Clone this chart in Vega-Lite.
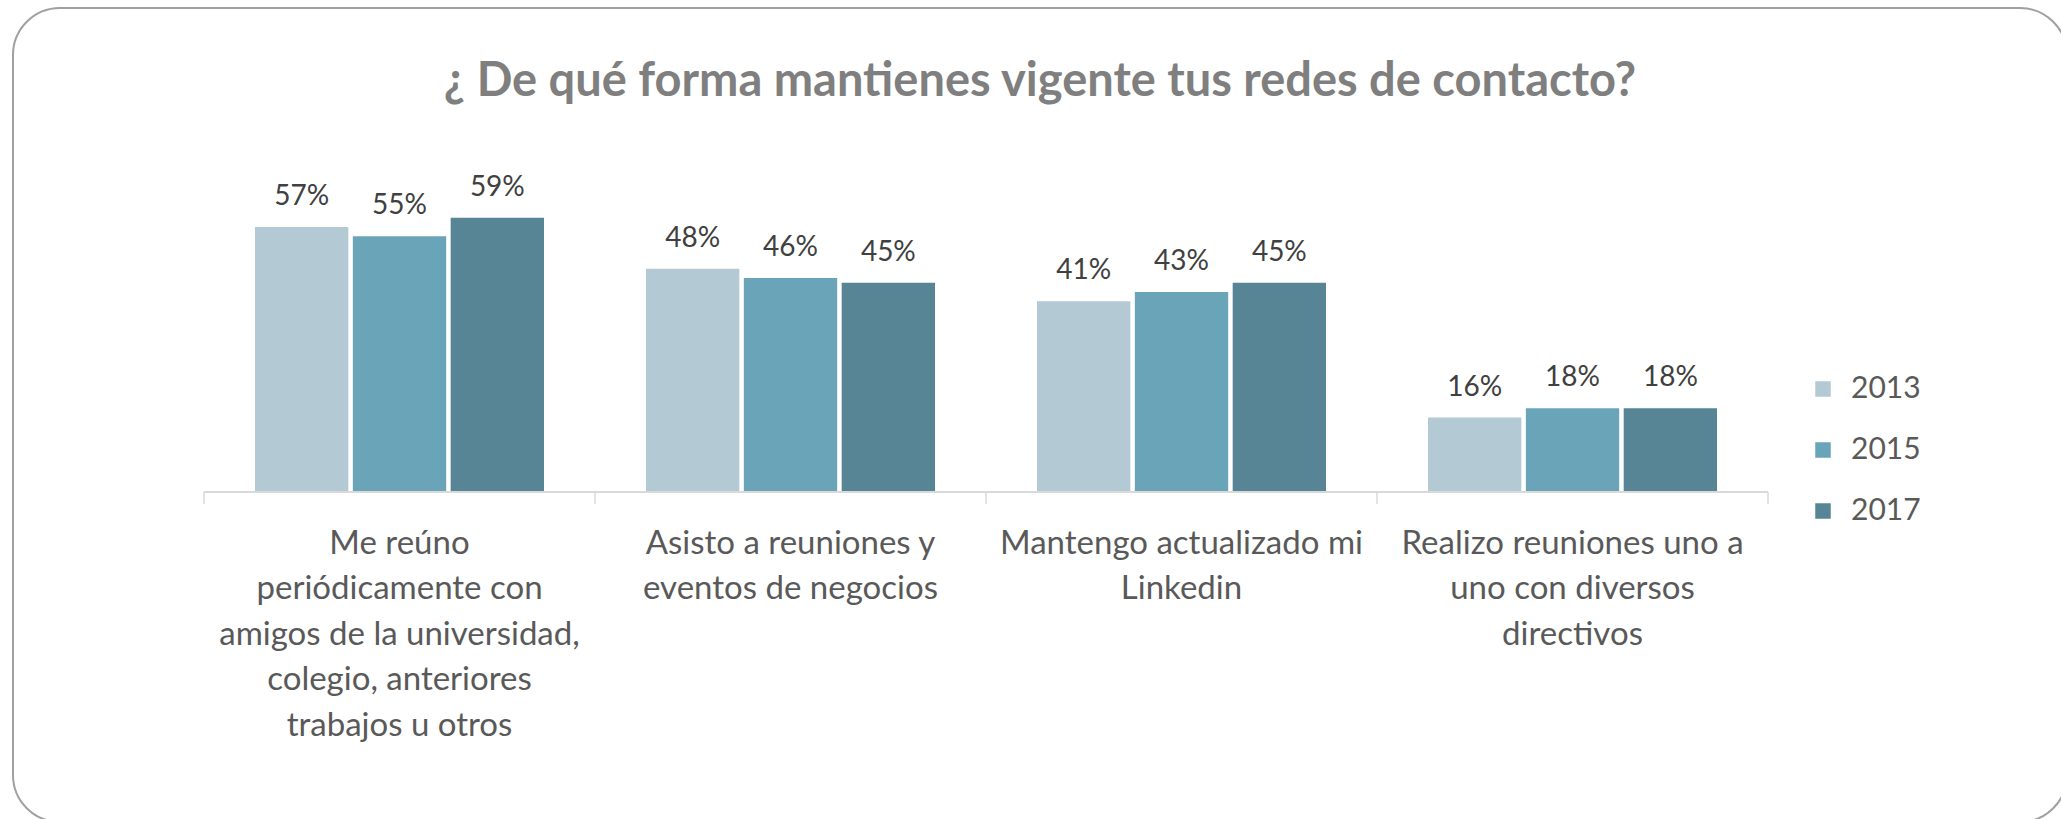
{
  "$schema": "https://vega.github.io/schema/vega-lite/v6.json",
  "autosize": "none",
  "width": 2054,
  "height": 814,
  "padding": {"left": 13, "top": 8, "right": 0, "bottom": 0},
  "background": "#ffffff",
  "config": {
    "font": "Lato",
    "view": {"stroke": "#a0a0a0", "strokeWidth": 2, "cornerRadius": 47}
  },
  "title": {
    "text": "¿ De qué forma mantienes vigente tus redes de contacto?",
    "font": "Lato",
    "fontSize": 47,
    "fontWeight": "bold",
    "color": "#7f7f7f",
    "anchor": "middle",
    "offset": -98
  },
  "datasets": {
    "main": [
      {"categoria": "Me reúno periódicamente con amigos de la universidad, colegio, anteriores trabajos u otros", "año": "2013", "valor": 0.57},
      {"categoria": "Me reúno periódicamente con amigos de la universidad, colegio, anteriores trabajos u otros", "año": "2015", "valor": 0.55},
      {"categoria": "Me reúno periódicamente con amigos de la universidad, colegio, anteriores trabajos u otros", "año": "2017", "valor": 0.59},
      {"categoria": "Asisto a reuniones y eventos de negocios", "año": "2013", "valor": 0.48},
      {"categoria": "Asisto a reuniones y eventos de negocios", "año": "2015", "valor": 0.46},
      {"categoria": "Asisto a reuniones y eventos de negocios", "año": "2017", "valor": 0.45},
      {"categoria": "Mantengo actualizado mi Linkedin", "año": "2013", "valor": 0.41},
      {"categoria": "Mantengo actualizado mi Linkedin", "año": "2015", "valor": 0.43},
      {"categoria": "Mantengo actualizado mi Linkedin", "año": "2017", "valor": 0.45},
      {"categoria": "Realizo reuniones uno a uno con diversos directivos", "año": "2013", "valor": 0.16},
      {"categoria": "Realizo reuniones uno a uno con diversos directivos", "año": "2015", "valor": 0.18},
      {"categoria": "Realizo reuniones uno a uno con diversos directivos", "año": "2017", "valor": 0.18}
    ],
    "cats": [
      {"categoria": "Me reúno periódicamente con amigos de la universidad, colegio, anteriores trabajos u otros"},
      {"categoria": "Asisto a reuniones y eventos de negocios"},
      {"categoria": "Mantengo actualizado mi Linkedin"},
      {"categoria": "Realizo reuniones uno a uno con diversos directivos"}
    ]
  },
  "layer": [
    {
      "data": {"name": "main"},
      "mark": {"type": "bar"},
      "encoding": {
        "x": {
          "field": "categoria", "type": "nominal", "sort": null,
          "scale": {
            "domain": [
              "Me reúno periódicamente con amigos de la universidad, colegio, anteriores trabajos u otros",
              "Asisto a reuniones y eventos de negocios",
              "Mantengo actualizado mi Linkedin",
              "Realizo reuniones uno a uno con diversos directivos"
            ],
            "paddingInner": 0.2609, "paddingOuter": 0.757, "align": 0.4088
          },
          "axis": {
            "title": null, "domain": false, "ticks": false, "tickSize": 0,
            "offset": -330, "labelAngle": 0, "labelLimit": 0,
            "labelFont": "Lato", "labelFontSize": 33, "labelColor": "#595959",
            "labelLineHeight": 45.5, "labelPadding": 35,
            "labelExpr": "slice(datum.value,0,2)=='Me' ? ['Me reúno','periódicamente con','amigos de la universidad,','colegio, anteriores','trabajos u otros'] : slice(datum.value,0,2)=='As' ? ['Asisto a reuniones y','eventos de negocios'] : slice(datum.value,0,2)=='Ma' ? ['Mantengo actualizado mi','Linkedin'] : ['Realizo reuniones uno a','uno con diversos','directivos']"
          }
        },
        "xOffset": {"field": "año", "type": "nominal", "scale": {"paddingInner": 0.046, "paddingOuter": 0}},
        "y": {"field": "valor", "type": "quantitative", "scale": {"domain": [-0.7097, 1.0409], "zero": false, "nice": false}, "axis": null},
        "y2": {"datum": 0},
        "color": {
          "field": "año", "type": "nominal",
          "scale": {"domain": ["2013", "2015", "2017"], "range": ["#b3cad4", "#6aa4b9", "#578595"]},
          "legend": {
            "title": null, "orient": "none", "legendX": 1795, "legendY": 366,
            "symbolType": "square", "symbolSize": 240, "symbolStrokeWidth": 0,
            "labelFont": "Lato", "labelFontSize": 30, "labelColor": "#595959",
            "labelOffset": 13, "rowPadding": 31, "padding": 0
          }
        }
      }
    },
    {
      "data": {"name": "main"},
      "mark": {"type": "text", "baseline": "alphabetic", "dy": -22, "font": "Lato", "fontSize": 28, "color": "#404040"},
      "encoding": {
        "x": {"field": "categoria", "type": "nominal", "sort": null},
        "xOffset": {"field": "año", "type": "nominal"},
        "y": {"field": "valor", "type": "quantitative"},
        "text": {"field": "valor", "type": "quantitative", "format": ".0%"}
      }
    },
    {
      "data": {"name": "cats"},
      "mark": {"type": "bar", "color": "#d9d9d9", "width": {"band": 1.3529}},
      "encoding": {
        "x": {"field": "categoria", "type": "nominal", "sort": null},
        "y": {"datum": -0.00215, "type": "quantitative"},
        "y2": {"datum": 0.00215}
      }
    },
    {
      "data": {"name": "cats"},
      "mark": {"type": "rule", "color": "#d9d9d9", "strokeWidth": 1.5},
      "encoding": {
        "x": {"field": "categoria", "type": "nominal", "sort": null, "bandPosition": -0.1765},
        "y": {"datum": 0, "type": "quantitative"},
        "y2": {"datum": -0.0258}
      }
    },
    {
      "data": {"name": "cats"},
      "transform": [{"filter": "datum.categoria == 'Realizo reuniones uno a uno con diversos directivos'"}],
      "mark": {"type": "rule", "color": "#d9d9d9", "strokeWidth": 1.5},
      "encoding": {
        "x": {"field": "categoria", "type": "nominal", "sort": null, "bandPosition": 1.1765},
        "y": {"datum": 0, "type": "quantitative"},
        "y2": {"datum": -0.0258}
      }
    }
  ]
}
